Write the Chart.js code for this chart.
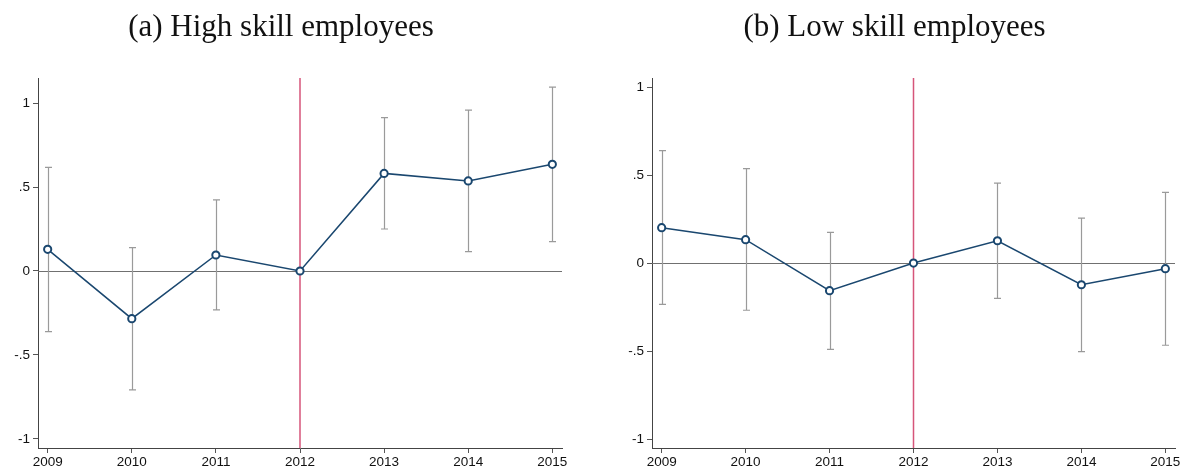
<!DOCTYPE html>
<html>
<head>
<meta charset="utf-8">
<script src="https://cdn.jsdelivr.net/npm/chart.js@4.4.0/dist/chart.umd.min.js"></script>
<style>
html,body{margin:0;padding:0;background:#fff;}
body{width:1183px;height:470px;position:relative;overflow:hidden;}
.panel{position:absolute;top:0;height:470px;}
.title{position:absolute;top:0;font-family:"Liberation Serif",serif;font-size:31px;color:#111;white-space:nowrap;text-align:center;line-height:1;}
</style>
</head>
<body>
<div class="panel" id="p1" style="left:0;width:580px;"><canvas id="c1"></canvas></div>
<div class="panel" id="p2" style="left:590px;width:593px;"><canvas id="c2"></canvas></div>
<div class="title" id="t1" style="left:0;width:562px;top:10px;">(a) High skill employees</div>
<div class="title" id="t2" style="left:612px;width:565px;top:10px;">(b) Low skill employees</div>
<script>
const years = [2009, 2010, 2011, 2012, 2013, 2014, 2015];
const yTicks = [-1, -0.5, 0, 0.5, 1];
const refYear = 2012;

const highCoef  = [0.129, -0.284, 0.095, 0, 0.581, 0.536, 0.635];
const highUpper = [0.617, 0.139, 0.423, null, 0.913, 0.958, 1.095];
const highLower = [-0.361, -0.708, -0.232, null, 0.250, 0.115, 0.175];

const lowCoef  = [0.201, 0.133, -0.157, 0, 0.127, -0.123, -0.032];
const lowUpper = [0.639, 0.537, 0.175, null, 0.455, 0.256, 0.402];
const lowLower = [-0.235, -0.268, -0.490, null, -0.201, -0.503, -0.467];

function fmt(v){
  if (v === 0) return '0';
  let s = String(v);
  s = s.replace(/^0\./, '.').replace(/^-0\./, '-.');
  return s;
}

const refPlugin = {
  id: 'refLines',
  beforeDatasetsDraw(chart, args, opts) {
    const {ctx, chartArea, scales} = chart;
    const xs = scales.x, ys = scales.y;
    ctx.save();
    const y0 = Math.round(ys.getPixelForValue(0)) + 0.5;
    ctx.strokeStyle = '#707070';
    ctx.lineWidth = 1;
    ctx.beginPath();
    ctx.moveTo(chartArea.left, y0);
    ctx.lineTo(chartArea.right, y0);
    ctx.stroke();
    const up = opts.upper, lo = opts.lower;
    ctx.strokeStyle = '#9a9a9a';
    ctx.lineWidth = 1.2;
    years.forEach((yr, i) => {
      if (up[i] == null || lo[i] == null) return;
      const x = Math.round(xs.getPixelForValue(yr)) + 0.5;
      const yu = ys.getPixelForValue(up[i]);
      const yl = ys.getPixelForValue(lo[i]);
      ctx.beginPath();
      ctx.moveTo(x, yu); ctx.lineTo(x, yl);
      ctx.moveTo(x - 3.5, yu); ctx.lineTo(x + 3.5, yu);
      ctx.moveTo(x - 3.5, yl); ctx.lineTo(x + 3.5, yl);
      ctx.stroke();
    });
    const xr = xs.getPixelForValue(refYear);
    ctx.strokeStyle = '#d6557a';
    ctx.lineWidth = 1.5;
    ctx.beginPath();
    ctx.moveTo(xr, chartArea.top);
    ctx.lineTo(xr, chartArea.bottom);
    ctx.stroke();
    ctx.restore();
  }
};

function makeChart(id, coef, upper, lower, yMin, yMax, yWidth, padRight) {
  const ctx = document.getElementById(id);
  return new Chart(ctx, {
    type: 'line',
    data: {
      datasets: [{
        data: years.map((y, i) => ({x: y, y: coef[i]})),
        borderColor: '#1a476f',
        borderWidth: 1.5,
        pointRadius: 3.6,
        pointBorderWidth: 2,
        pointBackgroundColor: '#ffffff',
        pointBorderColor: '#1a476f',
        tension: 0
      }]
    },
    options: {
      responsive: true,
      maintainAspectRatio: false,
      animation: false,
      layout: {padding: {top: 78, right: padRight, bottom: 0, left: 0}},
      plugins: {legend: {display: false}, tooltip: {enabled: false}, refLines: {upper, lower}},
      scales: {
        x: {
          type: 'linear',
          min: 2008.885,
          max: 2015.115,
          afterBuildTicks(s) { s.ticks = years.map(v => ({value: v})); },
          afterFit(s) { s.height = 22; },
          grid: {display: true, drawOnChartArea: false, drawTicks: true, tickLength: 5, color: '#555', tickWidth: 1},
          border: {display: true, color: '#444', width: 1},
          ticks: {
            callback: v => String(v),
            color: '#111',
            font: {family: '"Liberation Sans", Arial, sans-serif', size: 13.5},
            padding: 1,
            maxRotation: 0,
            autoSkip: false
          }
        },
        y: {
          min: yMin,
          max: yMax,
          afterBuildTicks(s) { s.ticks = yTicks.map(v => ({value: v})); },
          afterFit(s) { s.width = yWidth; },
          grid: {display: true, drawOnChartArea: false, drawTicks: true, tickLength: 5, color: '#555', tickWidth: 1},
          border: {display: true, color: '#444', width: 1},
          ticks: {
            callback: v => fmt(v),
            color: '#111',
            font: {family: '"Liberation Sans", Arial, sans-serif', size: 13.5},
            padding: 3
          }
        }
      }
    },
    plugins: [refPlugin]
  });
}

makeChart('c1', highCoef, highUpper, highLower, -1.054, 1.149, 38, 18);
makeChart('c2', lowCoef, lowUpper, lowLower, -1.051, 1.052, 62, 8);
</script>
</body>
</html>
